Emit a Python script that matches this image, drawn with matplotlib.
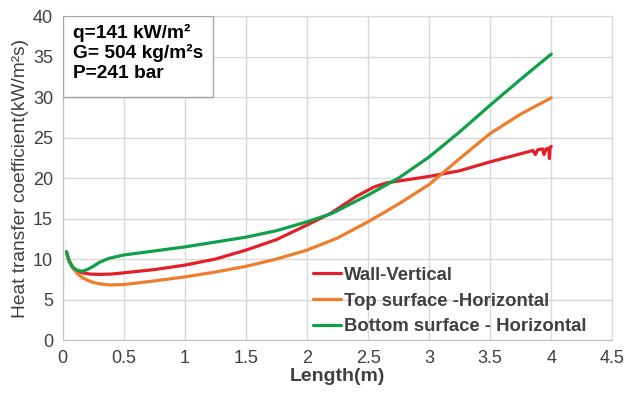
import matplotlib
matplotlib.use("Agg")
import matplotlib.pyplot as plt
from matplotlib.patches import Rectangle

plt.rcParams['font.family'] = ['Liberation Sans', 'DejaVu Sans']

# Heat transfer coefficient along the tube length (kW/m²s)
wall_x = [0.03, 0.05, 0.08, 0.12, 0.16, 0.22, 0.3, 0.4, 0.5, 0.75, 1.0, 1.25, 1.5, 1.75,
          2.0, 2.2, 2.4, 2.55, 2.65, 2.8, 3.0, 3.25, 3.5, 3.7, 3.85, 3.87, 3.89, 3.93,
          3.94, 3.96, 3.98, 3.985, 3.99, 4.0]
wall_y = [10.9, 9.9, 9.0, 8.5, 8.3, 8.15, 8.1, 8.15, 8.3, 8.7, 9.25, 10.0, 11.1, 12.4,
          14.2, 15.7, 17.7, 18.9, 19.4, 19.75, 20.2, 20.9, 22.0, 22.8, 23.4, 22.9, 23.5,
          23.6, 22.9, 23.6, 23.7, 22.4, 23.7, 23.9]

top_x = [0.03, 0.05, 0.08, 0.12, 0.16, 0.2, 0.25, 0.3, 0.38, 0.5, 0.75, 1.0, 1.25, 1.5,
         1.75, 2.0, 2.25, 2.5, 2.75, 3.0, 3.25, 3.5, 3.75, 4.0]
top_y = [10.9, 9.8, 8.9, 8.2, 7.7, 7.4, 7.1, 6.95, 6.8, 6.85, 7.3, 7.8, 8.4, 9.1,
         10.0, 11.1, 12.6, 14.6, 16.8, 19.2, 22.4, 25.5, 27.9, 29.9]

bottom_x = [0.03, 0.05, 0.08, 0.12, 0.16, 0.2, 0.25, 0.3, 0.38, 0.5, 0.75, 1.0, 1.25, 1.5,
            1.75, 2.0, 2.2, 2.5, 2.75, 3.0, 3.25, 3.5, 3.75, 4.0]
bottom_y = [10.9, 9.8, 9.0, 8.6, 8.5, 8.7, 9.1, 9.6, 10.1, 10.5, 11.0, 11.5, 12.1, 12.7,
            13.5, 14.6, 15.6, 17.9, 20.0, 22.6, 25.7, 29.0, 32.2, 35.3]

series_labels = ["Wall-Vertical", "Top surface -Horizontal", "Bottom surface - Horizontal"]
series_colors = ["#E3202A", "#EE7D2E", "#10A04C"]

conditions = ["q=141 kW/m²", "G= 504 kg/m²s", "P=241 bar"]

x_ticks = [0, 0.5, 1, 1.5, 2, 2.5, 3, 3.5, 4, 4.5]
y_ticks = [0, 5, 10, 15, 20, 25, 30, 35, 40]

text_color = "#404040"
grid_color = "#D9D9D9"

fig = plt.figure(figsize=(6.28, 4.01), dpi=100)
ax = fig.add_axes([0.100, 0.152, 0.875, 0.808])

for xs, ys, lab, col in zip([wall_x, top_x, bottom_x], [wall_y, top_y, bottom_y],
                            series_labels, series_colors):
    ax.plot(xs, ys, color=col, lw=2.3, label=lab, solid_capstyle='round', zorder=3)

ax.set_xlim(0, 4.5)
ax.set_ylim(0, 40)
ax.set_xticks(x_ticks)
ax.set_xticklabels([f"{t:g}" for t in x_ticks])
ax.set_yticks(y_ticks)
ax.grid(True, color=grid_color, lw=1.0, zorder=0)
ax.set_axisbelow(True)
for s in ax.spines.values():
    s.set_color(grid_color)
ax.spines['left'].set_color("#BFBFBF")
ax.spines['bottom'].set_color("#BFBFBF")
ax.tick_params(length=0, labelsize=13, colors=text_color, pad=7)

ax.set_xlabel("Length(m)", fontsize=14, fontweight='bold', color=text_color, labelpad=1)
ax.set_ylabel("Heat transfer coefficient(kW/m²s)", fontsize=13.8, color=text_color, labelpad=3)

# Operating conditions box
ax.add_patch(Rectangle((0, 0.75), 0.273, 0.25, transform=ax.transAxes,
                       facecolor='white', edgecolor='#A6A6A6', lw=1.0, zorder=4))
for i, line in enumerate(conditions):
    ax.text(0.018, 0.948 - i * 0.062, line, transform=ax.transAxes, fontsize=13.8,
            fontweight='bold', color='black', va='center', ha='left', zorder=5)

leg = ax.legend(loc='lower left', bbox_to_anchor=(0.447, 0.0), frameon=False,
                fontsize=13.3, handlelength=1.5, handletextpad=0.15, labelspacing=0.48,
                borderaxespad=0.0, borderpad=0.25)
for t in leg.get_texts():
    t.set_fontweight('bold')
    t.set_color(text_color)

fig.savefig("out.png", dpi=100, facecolor='white')
